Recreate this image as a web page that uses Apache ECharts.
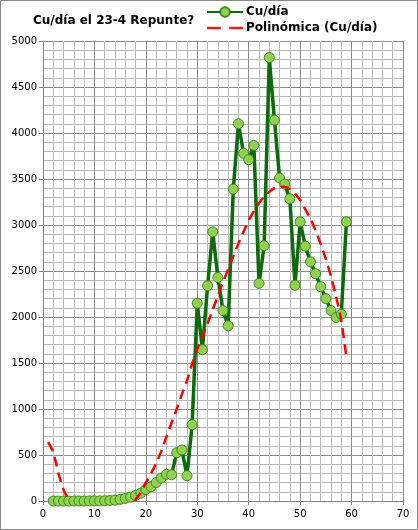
<!DOCTYPE html>
<html>
<head>
<meta charset="utf-8">
<script src="https://cdn.jsdelivr.net/npm/echarts@6/dist/echarts.min.js"></script>
<style>
html,body{margin:0;padding:0;background:#fff;}
#chart{width:418px;height:530px;}
</style>
</head>
<body>
<div id="chart"></div>
<script>
var titleText = 'Cu/día el 23-4 Repunte?';
var seriesName = 'Cu/día';
var trendName = 'Polinómica (Cu/día)';

var days = [2,3,4,5,6,7,8,9,10,11,12,13,14,15,16,17,18,19,20,21,22,23,24,25,26,27,28,29,30,31,32,33,34,35,36,37,38,39,40,41,42,43,44,45,46,47,48,49,50,51,52,53,54,55,56,57,58,59];
var cases = [0,0,0,0,0,0,0,1,2,2,3,5,10,18,28,42,60,85,125,155,200,250,290,285,525,555,275,830,2150,1645,2340,2925,2430,2070,1905,3390,4100,3780,3710,3865,2365,2775,4820,4140,3510,3445,3285,2345,3035,2770,2600,2470,2330,2200,2070,1995,2030,3035];

var trendX = [1,2,3,4,5,5.1,null,17.9,18,19,20,21,22,23,24,25,26,27,28,29,30,31,32,33,34,35,36,37,38,39,40,41,42,43,44,45,46,47,48,49,50,51,52,53,54,55,56,57,58,59];
var trendY = [640,530,300,120,15,0,null,0,15,90,200,300,410,540,700,850,1000,1160,1310,1490,1650,1790,1930,2080,2230,2380,2520,2660,2800,2930,3050,3150,3240,3310,3360,3400,3415,3415,3390,3340,3270,3170,3070,2940,2790,2630,2440,2220,1960,1560];

var xTicks = [0,10,20,30,40,50,60,70];
var yTicks = [0,500,1000,1500,2000,2500,3000,3500,4000,4500,5000];

var mainData = days.map(function(d,i){return [d, cases[i]];});
var trendData = trendX.map(function(x,i){return x === null ? ['-','-'] : [x, trendY[i]];});

var chart = echarts.init(document.getElementById('chart'), null, {renderer:'canvas'});
var font = 'DejaVu Sans';
chart.setOption({
  animation:false,
  backgroundColor:'#ffffff',
  title:{
    text:titleText, left:28, top:10,
    textStyle:{fontFamily:font, fontSize:12, fontWeight:'bold', color:'#000'}
  },
  legend:{
    orient:'vertical', left:201, top:1, itemGap:4, itemWidth:36, itemHeight:12,
    textStyle:{fontFamily:font, fontSize:12, fontWeight:'bold', color:'#000', padding:[0,0,0,-2]},
    data:[
      {name:seriesName},
      {name:trendName, icon:'path://M0,5 L13,5 L13,7.4 L0,7.4 Z M21,5 L34,5 L34,7.4 L21,7.4 Z', itemStyle:{color:'#e0201c'}}
    ]
  },
  graphic:[{type:'rect', shape:{x:0.5,y:0.5,width:417,height:529}, style:{fill:'none', stroke:'#888', lineWidth:1}, silent:true, z:100}],
  grid:{left:43, right:15, top:41, bottom:29},
  xAxis:{
    type:'value', min:xTicks[0], max:xTicks[xTicks.length-1], interval:10,
    axisLine:{show:true, lineStyle:{color:'#808080', width:1}},
    axisTick:{show:true, length:4, lineStyle:{color:'#808080'}},
    axisLabel:{fontFamily:font, fontSize:10, color:'#000', margin:8, formatter:function(v){return String(v);}},
    splitLine:{show:true, lineStyle:{color:'#8c8c8c', width:1}},
    minorTick:{show:false, splitNumber:5},
    minorSplitLine:{show:true, lineStyle:{color:'#bababa', width:1}}
  },
  yAxis:{
    type:'value', min:yTicks[0], max:yTicks[yTicks.length-1], interval:500,
    axisLine:{show:true, lineStyle:{color:'#808080', width:1}},
    axisTick:{show:true, length:4, lineStyle:{color:'#808080'}},
    axisLabel:{fontFamily:font, fontSize:10, color:'#000', margin:6, formatter:function(v){return String(v);}},
    splitLine:{show:true, lineStyle:{color:'#8c8c8c', width:1}},
    minorTick:{show:false, splitNumber:5},
    minorSplitLine:{show:true, lineStyle:{color:'#bababa', width:1}}
  },
  series:[
    {
      name:seriesName, type:'line', data:mainData,
      symbol:'circle', symbolSize:10, showAllSymbol:true,
      lineStyle:{color:'#0b6b0b', width:3.5},
      itemStyle:{color:'#92d050', borderColor:'#3c8a1e', borderWidth:1},
      z:2
    },
    {
      name:trendName, type:'line', data:trendData,
      symbol:'none', smooth:0.2, connectNulls:false,
      lineStyle:{color:'#ff0000', width:2.5, type:[10,6]},
      itemStyle:{color:'#ff0000'},
      z:3
    }
  ]
});
</script>
</body>
</html>
